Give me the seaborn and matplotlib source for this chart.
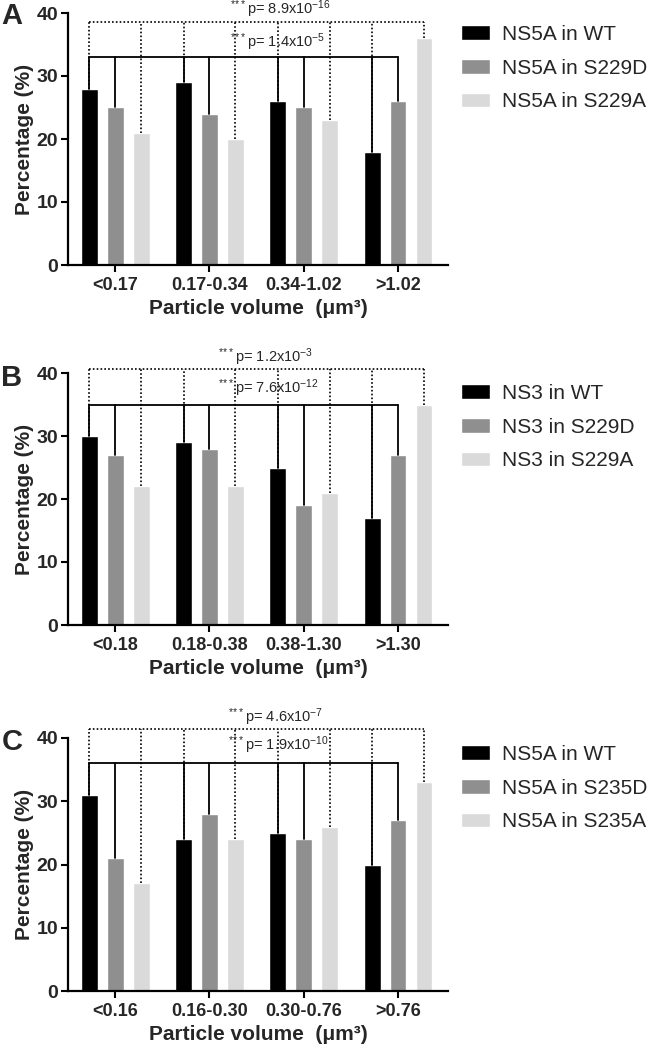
import numpy as np
import pandas as pd
import seaborn as sns
import matplotlib.pyplot as plt

sns.set_theme(style='ticks')
plt.rcParams['font.family'] = ['Liberation Sans', 'DejaVu Sans']
plt.rcParams['mathtext.fontset'] = 'custom'
plt.rcParams['mathtext.rm'] = 'Liberation Sans'
plt.rcParams['mathtext.default'] = 'regular'

pal = ['#000000', '#8f8f8f', '#dadada']

# panel A
bins_a = ['<0.17', '0.17-0.34', '0.34-1.02', '>1.02']
groups_a = ['NS5A in WT', 'NS5A in S229D', 'NS5A in S229A']
vals_a = [[28, 29, 26, 18], [25, 24, 25, 26], [21, 20, 23, 36]]
pvals_a = ['8.9x10$^{-16}$', '1.4x10$^{-5}$']

# panel B
bins_b = ['<0.18', '0.18-0.38', '0.38-1.30', '>1.30']
groups_b = ['NS3 in WT', 'NS3 in S229D', 'NS3 in S229A']
vals_b = [[30, 29, 25, 17], [27, 28, 19, 27], [22, 22, 21, 35]]
pvals_b = ['1.2x10$^{-3}$', '7.6x10$^{-12}$']

# panel C
bins_c = ['<0.16', '0.16-0.30', '0.30-0.76', '>0.76']
groups_c = ['NS5A in WT', 'NS5A in S235D', 'NS5A in S235A']
vals_c = [[31, 24, 25, 20], [21, 28, 24, 27], [17, 24, 26, 33]]
pvals_c = ['4.6x10$^{-7}$', '1.9x10$^{-10}$']

STARS = r'$^{*\!*\!*}$'


def long_df(bins, groups, vals):
    rows = []
    for g, v in zip(groups, vals):
        for b, y in zip(bins, v):
            rows.append({'bin': b, 'group': g, 'pct': y})
    return pd.DataFrame(rows)


def draw_panel(ax, bins, groups, vals, pvals, letter, solid_y, dot_y,
               top_txt, mid_txt, leg_y, letter_y):
    df = long_df(bins, groups, vals)
    sns.barplot(data=df, x='bin', y='pct', hue='group', hue_order=groups,
                order=bins, palette=pal, saturation=1, width=0.825, gap=0.35,
                ax=ax, legend=True)

    cen = [[p.get_x() + p.get_width() / 2 for p in c.patches] for c in ax.containers]
    hts = [[p.get_height() for p in c.patches] for c in ax.containers]

    # dotted brackets WT vs alanine mutant
    for j in range(len(bins)):
        for k in (0, 2):
            ax.plot([cen[k][j], cen[k][j]], [hts[k][j], dot_y], color='black',
                    lw=1.2, ls=(0, (1, 1.3)), clip_on=False, zorder=3)
    ax.plot([cen[0][0], cen[2][-1]], [dot_y, dot_y], color='black', lw=1.2,
            ls=(0, (1, 1.3)), clip_on=False, zorder=3)

    # solid brackets WT vs aspartate mutant
    for j in range(len(bins)):
        for k in (0, 1):
            ax.plot([cen[k][j], cen[k][j]], [hts[k][j], solid_y], color='black',
                    lw=1.3, clip_on=False, zorder=4)
    ax.plot([cen[0][0], cen[1][-1]], [solid_y, solid_y], color='black', lw=1.3,
            clip_on=False, zorder=4)

    ax.text(top_txt[0], top_txt[1], STARS + 'p= ' + pvals[0], fontsize=10.5,
            ha='left', va='baseline', clip_on=False)
    ax.text(mid_txt[0], mid_txt[1], STARS + 'p= ' + pvals[1], fontsize=10.5,
            ha='left', va='baseline', clip_on=False, zorder=5)

    ax.set_xlim(-0.5, 3.53)
    ax.set_ylim(0, 40)
    ax.set_yticks([0, 10, 20, 30, 40])
    ax.set_ylabel('Percentage (%)', fontsize=15, fontweight='bold', labelpad=2)
    ax.set_xlabel('Particle volume  (\u03bcm\u00b3)', fontsize=15, fontweight='bold',
                  labelpad=3)
    for t in ax.get_yticklabels():
        t.set_fontweight('bold')
        t.set_fontsize(14)
    for t in ax.get_xticklabels():
        t.set_fontweight('bold')
        t.set_fontsize(13)
    ax.tick_params(axis='both', width=1.5, length=5, color='black', pad=2)
    ax.tick_params(axis='x', pad=4)
    for s in ('left', 'bottom'):
        ax.spines[s].set_linewidth(1.6)
        ax.spines[s].set_color('black')
    sns.despine(ax=ax)

    ax.legend(loc='upper left', bbox_to_anchor=(461 / 650, leg_y),
              bbox_transform=fig.transFigure, frameon=False, fontsize=15,
              handlelength=1.4, handleheight=0.7, handletextpad=0.55,
              labelspacing=0.7, borderpad=0, borderaxespad=0)
    fig.text(12 / 650, letter_y, letter, fontsize=21, fontweight='bold',
             ha='center', va='center')


fig = plt.figure(figsize=(6.5, 10.54), dpi=100)
W, H = 650, 1054
ax_a = fig.add_axes([68 / W, 1 - 265 / H, 380 / W, 252 / H])
ax_b = fig.add_axes([68 / W, 1 - 625 / H, 380 / W, 252 / H])
ax_c = fig.add_axes([68 / W, 1 - 991 / H, 380 / W, 253 / H])

draw_panel(ax_a, bins_a, groups_a, vals_a, pvals_a, 'A', 33, 38.5,
           (1.22, 39.85), (1.22, 34.6), 1 - 25 / H, 1 - 16 / H)
draw_panel(ax_b, bins_b, groups_b, vals_b, pvals_b, 'B', 35, 40.6,
           (1.09, 41.7), (1.09, 36.8), 1 - 384 / H, 1 - 378 / H)
draw_panel(ax_c, bins_c, groups_c, vals_c, pvals_c, 'C', 36, 41.4,
           (1.2, 42.5), (1.2, 38.1), 1 - 745 / H, 1 - 742 / H)

fig.savefig('out.png', dpi=100)
